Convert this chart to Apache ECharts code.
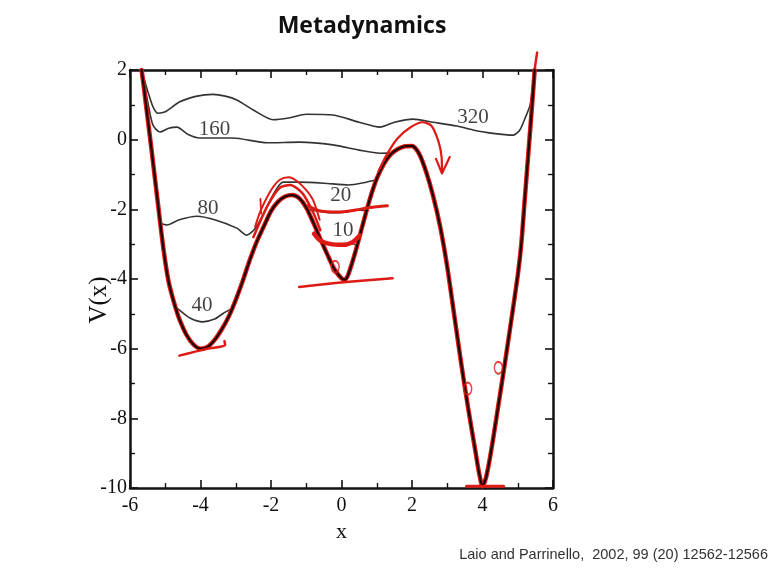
<!DOCTYPE html>
<html><head><meta charset="utf-8">
<script src="https://cdn.jsdelivr.net/npm/echarts@6/dist/echarts.min.js"></script>
<style>html,body{margin:0;padding:0;background:#fff}#c{width:777px;height:570px}</style>
</head><body><div id="c"></div>
<script>
// ---- data ----
const xTickLabels = [-6, -4, -2, 0, 2, 4, 6];
const yTickLabels = [-10, -8, -6, -4, -2, 0, 2];

// underlying potential V(x)
const potential = [[-5.67,2.0],[-5.6,1.45],[-5.5,0.62],[-5.4,-0.2],[-5.3,-1.05],[-5.2,-1.9],[-5.1,-2.75],[-5.0,-3.5],[-4.9,-4.1],[-4.8,-4.5],[-4.7,-4.85],[-4.6,-5.15],[-4.4,-5.6],[-4.2,-5.88],[-4.0,-6.0],[-3.8,-5.95],[-3.6,-5.75],[-3.4,-5.45],[-3.2,-5.08],[-3.0,-4.6],[-2.8,-4.05],[-2.6,-3.45],[-2.4,-2.92],[-2.2,-2.48],[-2.0,-2.05],[-1.8,-1.78],[-1.6,-1.63],[-1.4,-1.59],[-1.2,-1.68],[-1.0,-1.95],[-0.8,-2.38],[-0.6,-2.85],[-0.4,-3.3],[-0.2,-3.72],[0.0,-3.98],[0.1,-4.02],[0.2,-3.85],[0.4,-3.2],[0.6,-2.45],[0.8,-1.72],[1.0,-1.12],[1.2,-0.7],[1.4,-0.42],[1.6,-0.27],[1.8,-0.19],[2.0,-0.18],[2.2,-0.4],[2.4,-0.92],[2.6,-1.62],[2.8,-2.5],[3.0,-3.65],[3.2,-5.05],[3.4,-6.45],[3.6,-7.75],[3.8,-8.95],[3.9,-9.55],[4.0,-9.95],[4.1,-9.7],[4.2,-9.2],[4.3,-8.6],[4.4,-7.95],[4.6,-6.65],[4.8,-5.3],[5.0,-3.9],[5.1,-3.0],[5.2,-1.7],[5.3,-0.4],[5.4,0.9],[5.48,2.0]];

// filled (biased) profiles after n Gaussians
const fill10 = [[-0.64,-2.8],[-0.45,-2.95],[-0.2,-3.0],[0.1,-3.0],[0.3,-2.98],[0.45,-3.05]];
const fill20 = [[-1.02,-1.98],[-0.7,-2.05],[-0.3,-2.1],[0.1,-2.08],[0.45,-2.02],[0.7,-2.05]];
const fill40 = [[-4.72,-4.8],[-4.64,-4.86],[-4.3,-5.12],[-3.93,-5.23],[-3.6,-5.15],[-3.36,-4.99],[-3.12,-4.85]];
const fill80 = [[-5.15,-2.4],[-4.95,-2.45],[-4.6,-2.3],[-4.1,-2.2],[-3.6,-2.3],[-2.97,-2.54],[-2.69,-2.74],[-2.45,-2.55],[-2.2,-2.1],[-1.95,-1.6],[-1.66,-1.22],[-1.2,-1.22],[-0.5,-1.25],[0.2,-1.3],[0.7,-1.22],[0.98,-1.15]];
const fill160 = [[-5.67,2.0],[-5.5,1.1],[-5.35,0.42],[-5.15,0.22],[-4.9,0.33],[-4.67,0.36],[-4.35,0.15],[-4.02,0.05],[-3.08,0.05],[-2.11,-0.09],[-1.18,-0.07],[-0.24,-0.15],[0.5,-0.3],[1.09,-0.39],[1.46,-0.38]];
const fill320 = [[-5.67,2.0],[-5.5,1.4],[-5.35,0.95],[-5.21,0.76],[-5.0,0.8],[-4.6,1.08],[-4.1,1.25],[-3.65,1.3],[-3.3,1.25],[-2.97,1.14],[-2.5,0.85],[-1.94,0.57],[-1.5,0.62],[-1.0,0.73],[-0.24,0.71],[0.5,0.5],[1.09,0.36],[1.5,0.5],[2.03,0.59],[2.6,0.5],[3.27,0.39],[3.73,0.28],[4.3,0.18],[4.87,0.13],[5.06,0.28],[5.2,0.6],[5.35,1.0],[5.48,2.0]];

// curve labels
const labelText = ['320', '160', '80', '40', '20', '10'];
const labelX = [3.73, -3.6, -3.79, -3.96, -0.02, 0.04];
const labelY = [0.65, 0.28, -1.97, -4.75, -1.59, -2.6];

// red hand-drawn annotations
const redArcA = [[-2.45,-2.5],[-2.3,-2.05],[-2.0,-1.45],[-1.75,-1.15],[-1.5,-1.08],[-1.25,-1.2],[-1.0,-1.45],[-0.8,-1.75],[-0.62,-2.3]];
const redArcB = [[-2.5,-2.8],[-2.1,-1.9],[-1.75,-1.38],[-1.45,-1.3],[-1.1,-1.55],[-0.8,-2.1],[-0.6,-2.6]];
const redLevel20 = [[-0.95,-1.9],[-0.6,-2.05],[-0.1,-2.08],[0.4,-2.02],[0.8,-1.95],[1.3,-1.9]];
const redLevel10 = [[-0.78,-2.7],[-0.6,-2.9],[-0.3,-3.0],[0.0,-3.02],[0.3,-2.95],[0.52,-2.75]];
const redFloor = [[-1.2,-4.23],[-0.5,-4.15],[0.3,-4.07],[1.45,-3.98]];
const redArrowArc = [[1.05,-0.9],[1.3,-0.4],[1.6,0.05],[1.95,0.35],[2.3,0.5],[2.55,0.4],[2.75,-0.05],[2.84,-0.5],[2.85,-0.96]];
const redArrowHead = [[2.68,-0.55],[2.85,-0.97],[3.07,-0.5]];
const redLeftMin = [[-4.6,-6.2],[-4.2,-6.1],[-3.8,-6.0],[-3.3,-5.9],[-3.32,-5.78]];
const redTick = [[-2.3,-1.7],[-2.28,-2.12]];
const redDeepFloor = [[3.55,-9.95],[4.6,-9.95]];
const redOvershoot = [[5.4,0.9],[5.48,2.0],[5.55,2.5]];
const redLoops = [[3.58,-7.15],[4.45,-6.55],[-0.18,-3.65]];

// ---- chart ----
const serif = 'Liberation Serif';
const chart = echarts.init(document.getElementById('c'), null, {renderer: 'canvas'});
const xMin = xTickLabels[0], xMax = xTickLabels[xTickLabels.length - 1];
const yMin = yTickLabels[0], yMax = yTickLabels[yTickLabels.length - 1];
const xInt = xTickLabels[1] - xTickLabels[0], yInt = yTickLabels[1] - yTickLabels[0];

function axisCommon(showLabel) {
  return {
    axisLine: {show: true, onZero: false, lineStyle: {color: '#111', width: 2.5}},
    axisTick: {show: true, inside: true, length: 8, lineStyle: {color: '#111', width: 1.6}},
    minorTick: {show: true, splitNumber: 2, length: 5, lineStyle: {color: '#111', width: 1.4}},
    splitLine: {show: false},
    axisLabel: {show: showLabel, fontFamily: serif, fontSize: 20, color: '#111'}
  };
}
function line(data, color, width, z) {
  return {type: 'line', data: data, showSymbol: false, symbol: 'none', smooth: 0.25,
    lineStyle: {color: color, width: width, cap: 'round', join: 'round'}, z: z, silent: true, clip: true};
}
const RED = '#dd1a14';
const GREY = '#333333';

const option = {
  animation: false,
  backgroundColor: '#fff',
  title: [
    {text: 'Metadynamics', left: 357, top: 10, textAlign: 'center',
      textStyle: {fontFamily: 'Open Sans', fontWeight: 'bold', fontSize: 23, color: '#111'}},
    {text: 'Laio and Parrinello,  2002, 99 (20) 12562-12566', right: 4, top: 542,
      textStyle: {fontFamily: 'Liberation Sans', fontWeight: 'normal', fontSize: 14.5, color: '#333'}}
  ],
  grid: {left: 130, right: 224, top: 70, bottom: 82},
  xAxis: [
    Object.assign({type: 'value', min: xMin, max: xMax, interval: xInt, position: 'bottom',
      name: 'x', nameLocation: 'middle', nameGap: 21,
      nameTextStyle: {fontFamily: serif, fontSize: 22, color: '#111'}}, axisCommon(true),
      {axisLabel: {show: true, fontFamily: serif, fontSize: 20, color: '#111', margin: 8}}),
    Object.assign({type: 'value', min: xMin, max: xMax, interval: xInt, position: 'top'}, axisCommon(false))
  ],
  yAxis: [
    Object.assign({type: 'value', min: yMin, max: yMax, interval: yInt, position: 'left'}, axisCommon(true),
      {axisLabel: {show: true, fontFamily: serif, fontSize: 20, color: '#111', margin: 3}}),
    Object.assign({type: 'value', min: yMin, max: yMax, interval: yInt, position: 'right'}, axisCommon(false))
  ],
  graphic: [
    {type: 'text', x: 99, y: 300, rotation: Math.PI / 2,
      style: {text: 'V(x)', font: '25px "Liberation Serif"', fill: '#111', textAlign: 'center', textVerticalAlign: 'middle'}}
  ],
  series: [
    line(fill320, GREY, 1.6, 2),
    line(fill160, GREY, 1.6, 2),
    line(fill80, GREY, 1.6, 2),
    line(fill40, GREY, 1.6, 2),
    line(fill20, GREY, 1.6, 2),
    line(fill10, GREY, 1.6, 2),
    line(potential, RED, 4.5, 3),
    line(potential, '#1a0606', 2.2, 4),
    Object.assign(line(redOvershoot, RED, 2.5, 3), {clip: false}),
    line(redArcA, RED, 2, 5),
    line(redArcB, RED, 2.5, 5),
    line(redLevel20, RED, 3, 5),
    line(redLevel10, RED, 4.5, 5),
    line(redFloor, RED, 2.5, 5),
    line(redArrowArc, RED, 2.2, 5),
    Object.assign(line(redArrowHead, RED, 2.2, 5), {smooth: false}),
    line(redLeftMin, RED, 2.5, 5),
    Object.assign(line(redTick, RED, 1.8, 5), {smooth: false}),
    Object.assign(line(redDeepFloor, RED, 3, 5), {smooth: false}),
    {type: 'scatter', data: redLoops, symbol: 'circle', symbolSize: [8, 12], z: 6, silent: true,
      itemStyle: {color: 'rgba(0,0,0,0)', borderColor: RED, borderWidth: 1.8}},
    {type: 'scatter', symbolSize: 0, z: 7, silent: true,
      data: labelText.map((t, i) => ({value: [labelX[i], labelY[i]], name: t})),
      label: {show: true, position: 'inside', formatter: p => p.name,
        fontFamily: serif, fontSize: 21, color: '#111'}}
  ]
};
chart.setOption(option);
</script></body></html>
